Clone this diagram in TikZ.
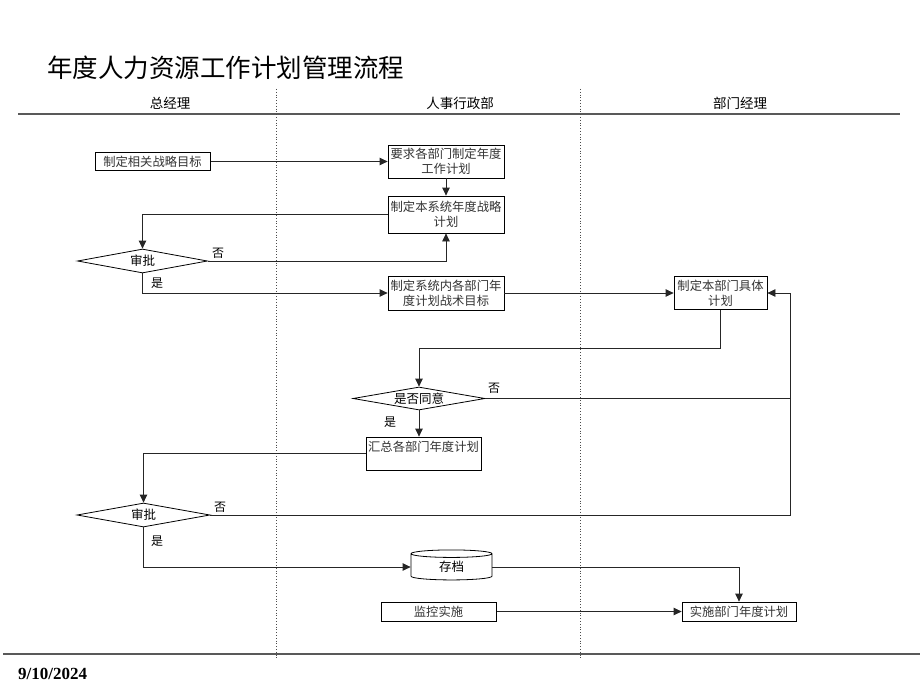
\documentclass[tikz,border=0pt]{standalone}
\usepackage{fontspec}
\setmainfont{Noto Sans CJK SC}
\newfontfamily\datefont{Liberation Serif}
\usetikzlibrary{arrows.meta,shapes.geometric}
\tikzset{
  x=1pt, y=-1pt,
  box/.style={draw=black, line width=0.8pt, fill=white, inner sep=1pt, align=center,
    font=\fontsize{12.3}{15}\selectfont, text=black!80},
  dec/.style={draw=black, line width=0.8pt, fill=white, diamond, inner sep=0pt,
    font=\fontsize{12.5}{14}\selectfont},
  conn/.style={draw=black!85, line width=0.8pt},
  arr/.style={conn, -{Triangle[length=8pt,width=7.5pt]}},
  lab/.style={font=\fontsize{12}{14}\selectfont, inner sep=0pt},
  hdr/.style={font=\fontsize{13.5}{15}\selectfont, inner sep=0pt},
  lane/.style={draw=black!70, line width=0.8pt, dotted},
  rule/.style={draw=black!65, line width=2pt},
}
\begin{document}
\begin{tikzpicture}
\useasboundingbox (0,0) rectangle (920,690);
% title
\node[anchor=west, inner sep=0pt, font=\fontsize{25.5}{28}\selectfont] (title) at (47,68) {年度人力资源工作计划管理流程};
% header
\node[hdr] (h1) at (170,103) {总经理};
\node[hdr] (h2) at (460,103) {人事行政部};
\node[hdr] (h3) at (740,103) {部门经理};
\draw[rule] (18,114.5) -- (900,114.5);
\draw[rule] (3,654) -- (920,654);
\draw[lane] (276,89) -- (276,660);
\draw[lane] (580,89) -- (580,660);
% nodes
\node[box, minimum width=115pt, minimum height=18pt, line width=1pt] (a) at (152.5,161.5) {制定相关战略目标};
\node[box, minimum width=116pt, minimum height=33pt] (b) at (446,161.5) {要求各部门制定年度\\工作计划};
\node[box, minimum width=116pt, minimum height=37pt] (c) at (446,214.5) {制定本系统年度战略\\计划};
\node[dec, aspect=5.4, minimum width=130pt, minimum height=24pt] (d1) at (142.5,261) {审批};
\node[box, minimum width=116pt, minimum height=34pt] (e) at (446,293) {制定系统内各部门年\\度计划战术目标};
\node[box, minimum width=93pt, minimum height=33pt] (f) at (720.5,293) {制定本部门具体\\计划};
\node[dec, aspect=5.7, minimum width=132pt, minimum height=23pt] (d2) at (419,398.5) {是否同意};
\node[box, minimum width=115pt, minimum height=33pt] (g) at (423.5,453.5) {汇总各部门年度计划\\\mbox{}};
\node[dec, aspect=5.5, minimum width=133pt, minimum height=24pt] (d3) at (143.5,515) {审批};
\node[draw=black, line width=0.8pt, fill=white, cylinder, shape border rotate=90, aspect=0.3,
  minimum width=81pt, minimum height=30pt, inner sep=0pt, font=\fontsize{12.5}{14}\selectfont] (cyl) at (451.5,567) {存档};
\node[box, minimum width=115pt, minimum height=19pt, line width=1pt] (m) at (438.5,611.5) {监控实施};
\node[box, minimum width=114pt, minimum height=19pt] (h) at (739,611.5) {实施部门年度计划};
\coordinate (j1) at (790,398.5);
% connectors
\draw[arr] (a.east) -- (b.west);
\draw[arr] (b.south) -- (c.north);
\draw[arr] (c.west) -| (d1.north);
\draw[arr] (d1.east) -| (c.south);
\draw[arr] (d1.south) |- (e.west);
\draw[arr] (e.east) -- (f.west);
\draw[arr] (f.south) -- (f.south |- 0,348) -| (d2.north);
\draw[arr] (d2.east) -- (j1) |- (f.east);
\draw[arr] (d2.south) -- (d2.south |- g.north);
\draw[arr] (g.west) -| (d3.north);
\draw[conn] (d3.east) -| (j1);
\draw[arr] (d3.south) |- (cyl.west);
\draw[arr] (cyl.east) -| (h.north);
\draw[arr] (m.east) -- (h.west);
% labels
\node[lab] (n1) at (218,253) {否};
\node[lab] (y1) at (157,283) {是};
\node[lab] (n2) at (494,388) {否};
\node[lab] (y2) at (390,422) {是};
\node[lab] (n3) at (220,507) {否};
\node[lab] (y3) at (157,541) {是};
% date
\node[anchor=west, inner sep=0pt, font=\datefont\bfseries\fontsize{17}{19}\selectfont] (date) at (18,674) {9/10/2024};
\end{tikzpicture}
\end{document}
